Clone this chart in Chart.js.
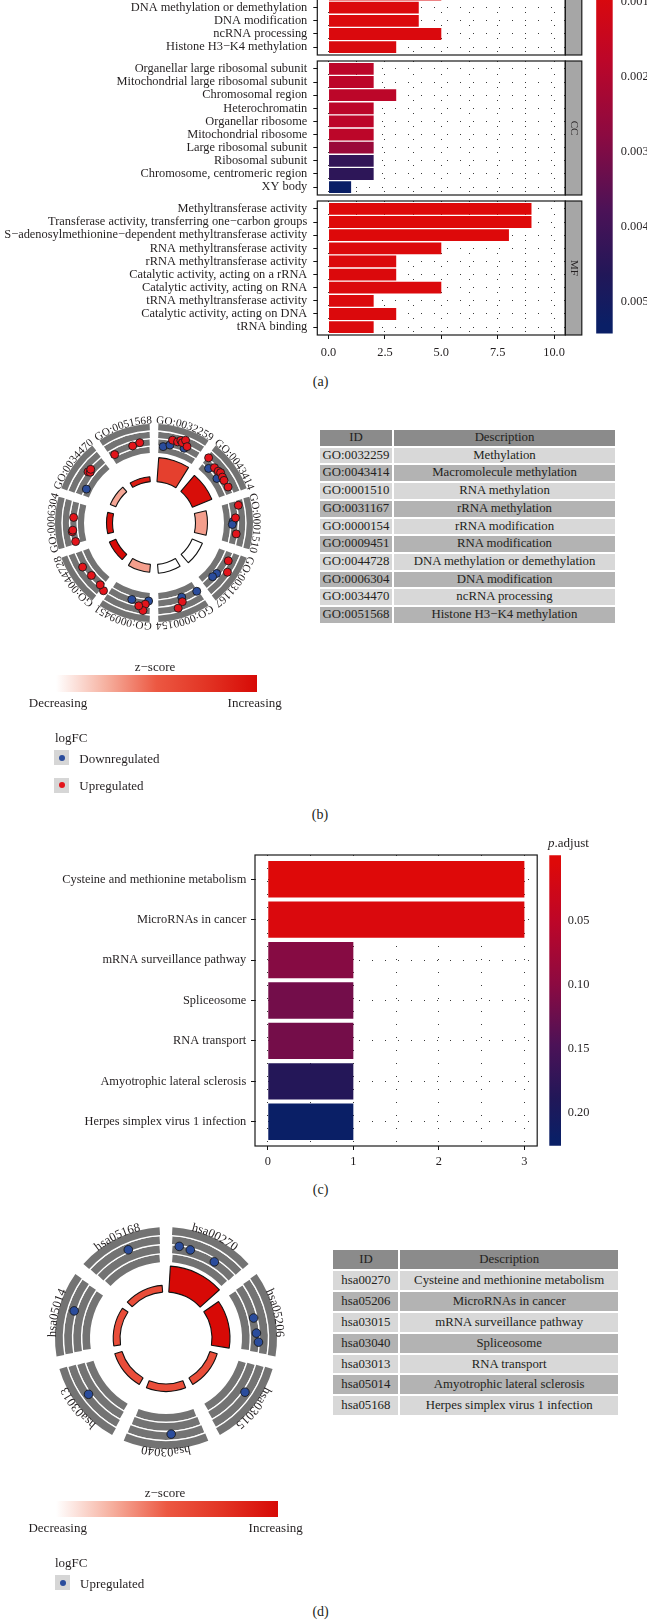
<!DOCTYPE html>
<html>
<head>
<meta charset="utf-8">
<title>GO / KEGG enrichment</title>
<script src="https://cdn.jsdelivr.net/npm/chart.js@4.4.1/dist/chart.umd.min.js"></script>
<style>
  html, body { margin: 0; padding: 0; background: #fff; }
  body { position: relative; width: 647px; height: 1620px; overflow: hidden; font-family: 'Liberation Serif', serif; color: #231f20; }
  canvas { position: absolute; }
  .t { position: absolute; white-space: nowrap; line-height: 1; }
  table.tab { position: absolute; border-collapse: separate; border-spacing: 2px; table-layout: fixed; font-size: 12.8px; color: #231f20; }
  table.tab td { padding: 0; text-align: center; white-space: nowrap; overflow: hidden; }
  .grad { position: absolute; }
  .key { position: absolute; width: 15px; height: 15px; background: #d6d6d6; }
  .key i { position: absolute; left: 4.5px; top: 4.5px; width: 6px; height: 6px; border-radius: 50%; }
</style>
</head>
<body>
<script>
// ---- (a) GO barplot, one facet per ontology ----
const bpTerms = ["Methylation", "Macromolecule methylation", "RNA methylation", "rRNA methylation",
  "rRNA modification", "RNA modification", "DNA methylation or demethylation", "DNA modification",
  "ncRNA processing", "Histone H3−K4 methylation"];
const bpCount = [9, 9, 5, 3, 3, 5, 4, 4, 5, 3];
const bpPadj = [0.0008, 0.0008, 0.00085, 0.00088, 0.0009, 0.0009, 0.0009, 0.0009, 0.00092, 0.00095];

const ccTerms = ["Organellar large ribosomal subunit", "Mitochondrial large ribosomal subunit",
  "Chromosomal region", "Heterochromatin", "Organellar ribosome", "Mitochondrial ribosome",
  "Large ribosomal subunit", "Ribosomal subunit", "Chromosome, centromeric region", "XY body"];
const ccCount = [2, 2, 3, 2, 2, 2, 2, 2, 2, 1];
const ccPadj = [0.00179, 0.00179, 0.00178, 0.0018, 0.0018, 0.0018, 0.0025, 0.0043, 0.0044, 0.0053];

const mfTerms = ["Methyltransferase activity", "Transferase activity, transferring one−carbon groups",
  "S−adenosylmethionine−dependent methyltransferase activity", "RNA methyltransferase activity",
  "rRNA methyltransferase activity", "Catalytic activity, acting on a rRNA",
  "Catalytic activity, acting on RNA", "tRNA methyltransferase activity",
  "Catalytic activity, acting on DNA", "tRNA binding"];
const mfCount = [9, 9, 8, 5, 3, 3, 5, 2, 3, 2];
const mfPadj = [0.0008, 0.0008, 0.00082, 0.00085, 0.0009, 0.0009, 0.00088, 0.0009, 0.0009, 0.0009];

const countTicks = [0, 2.5, 5, 7.5, 10];
const goPadjTicks = [0.001, 0.002, 0.003, 0.004, 0.005];

// ---- (b) GOCircle of the BP terms ----
const goIds = ["GO:0032259", "GO:0043414", "GO:0001510", "GO:0031167", "GO:0000154",
  "GO:0009451", "GO:0044728", "GO:0006304", "GO:0034470", "GO:0051568"];
const goDesc = ["Methylation", "Macromolecule methylation", "RNA methylation", "rRNA methylation",
  "rRNA modification", "RNA modification", "DNA methylation or demethylation", "DNA modification",
  "ncRNA processing", "Histone H3−K4 methylation"];
const goCircleBar = [6, 5.25, 3, 2.75, 2.25, 2, 1.75, 1.5, 1.5, 1.25];
const goZscore = [1.2, 1.76, 0.54, 0, 0, 0.54, 1.8, 1.74, 0.5, 1.6];
// genes: [term index, position inside the term, logFC]
const goGenesUp = [
  [0, 0.35, 0.24], [0, 0.45, 0.21], [0, 0.50, 0.38], [0, 0.54, 0.26], [0, 0.58, 0.50], [0, 0.65, 0.12],
  [1, 0.11, 0.25], [1, 0.32, 0.03], [1, 0.42, 0.07], [1, 0.47, 0.14], [1, 0.56, 0.06], [1, 0.63, 0.03], [1, 0.78, 0.06],
  [2, 0.17, 0.33], [2, 0.40, 0.01], [2, 0.71, 0.10],
  [3, 0.25, 0.13], [3, 0.44, 0.49],
  [4, 0.45, 0.15], [4, 0.56, 0.50],
  [5, 0.17, 0.01], [5, 0.20, 0.48], [5, 0.29, 0.19],
  [6, 0.02, 0.21], [6, 0.14, 0.03], [6, 0.39, 0.01], [6, 0.62, 0.17],
  [7, 0.13, -0.07], [7, 0.33, 0.05], [7, 0.36, 0.0], [7, 0.61, -0.07],
  [8, 0.55, 0.14], [8, 0.57, 0.0], [8, 0.62, 0.10],
  [9, 0.17, -0.19], [9, 0.57, -0.11], [9, 0.72, 0.0]
];
const goGenesDown = [
  [0, 0.19, -0.33], [0, 0.32, -0.14], [0, 0.61, -0.07],
  [1, 0.25, -0.31], [1, 0.52, -0.32],
  [2, 0.47, -0.17], [2, 0.53, -0.23],
  [3, 0.58, -0.08], [3, 0.68, -0.15],
  [4, 0.11, -0.07], [4, 0.43, -0.17],
  [5, 0.11, -0.24], [5, 0.45, -0.14],
  [8, 0.24, -0.42]
];

// ---- (c) KEGG barplot ----
const keggIds = ["hsa00270", "hsa05206", "hsa03015", "hsa03040", "hsa03013", "hsa05014", "hsa05168"];
const keggTerms = ["Cysteine and methionine metabolism", "MicroRNAs in cancer", "mRNA surveillance pathway",
  "Spliceosome", "RNA transport", "Amyotrophic lateral sclerosis", "Herpes simplex virus 1 infection"];
const keggCount = [3, 3, 1, 1, 1, 1, 1];
const keggPadj = [0.0042, 0.0095, 0.104, 0.118, 0.117, 0.186, 0.2204];
const keggCountTicks = [0, 1, 2, 3];
const keggPadjTicks = [0.05, 0.10, 0.15, 0.20];

// ---- (d) GOCircle of the KEGG pathways ----
const keggCircleBar = [3.25, 2.25, 0.95, 0.95, 0.95, 0.85, 0.85];
const keggZscore = [1.73, 1.73, 1, 1, 1, 1, 1];
const keggGenes = [
  [0, 0.16, 0.15], [0, 0.30, 0.08], [0, 0.63, 0.01],
  [1, 0.50, -0.01], [1, 0.69, 0.03], [1, 0.80, 0.15],
  [2, 0.42, 0.34], [3, 0.44, 0.37], [4, 0.55, 0.34], [5, 0.57, 0.34], [6, 0.55, 0.35]
];

// colour ramps (p.adjust: low = red, high = navy; z-score: white -> red)
const pStops = [[0, '#DE0909'], [0.22, '#BC0629'], [0.44, '#8C0A41'], [0.66, '#4C1257'], [0.85, '#221758'], [1, '#0A1F66']];
const zStops = [[0, '#FFFFFF'], [0.25, '#F6B09F'], [0.5, '#EC5842'], [0.75, '#E23424'], [1, '#D70A06']];
const upCol = '#E3141B', downCol = '#2A4C9C';

function hex2rgb(h) { return [1, 3, 5].map(i => parseInt(h.substr(i, 2), 16)); }
function ramp(stops, t) {
  t = Math.max(0, Math.min(1, t));
  for (let i = 1; i < stops.length; i++) {
    if (t <= stops[i][0]) {
      const a = stops[i - 1], b = stops[i];
      const f = (t - a[0]) / (b[0] - a[0]);
      const ca = hex2rgb(a[1]), cb = hex2rgb(b[1]);
      return 'rgb(' + ca.map((c, j) => Math.round(c + (cb[j] - c) * f)).join(',') + ')';
    }
  }
  return stops[stops.length - 1][1];
}

Chart.defaults.animation = false;
Chart.defaults.responsive = false;
Chart.defaults.events = [];
Chart.defaults.plugins.legend.display = false;
Chart.defaults.plugins.tooltip.enabled = false;
Chart.defaults.font.family = "'Liberation Serif', serif";
Chart.defaults.font.size = 12.4;
Chart.defaults.color = '#231f20';

function makeCanvas(x, y, w, h) {
  const c = document.createElement('canvas');
  c.width = w; c.height = h;
  c.style.left = x + 'px'; c.style.top = y + 'px';
  document.body.appendChild(c);
  return c;
}
function txt(html, x, y, size, align) {
  const d = document.createElement('div');
  d.className = 't';
  d.innerHTML = html;
  d.style.left = x + 'px'; d.style.top = y + 'px';
  d.style.fontSize = size + 'px';
  d.style.transform = 'translate(' + (align === 'left' ? 0 : -50) + '%,-50%)';
  document.body.appendChild(d);
}

// panel border + facet strip
const framePlugin = {
  id: 'frame',
  afterDatasetsDraw(chart, args, o) {
    const { ctx, chartArea: a } = chart;
    const h = a.bottom - a.top;
    ctx.save();
    ctx.strokeStyle = '#1a1a1a';
    ctx.lineWidth = 1.2;
    if (o.strip) {
      ctx.fillStyle = '#a6a6a6';
      ctx.fillRect(a.right, a.top, o.stripW, h);
      ctx.strokeRect(a.right, a.top, o.stripW, h);
      ctx.save();
      ctx.translate(a.right + o.stripW / 2, a.top + h / 2);
      ctx.rotate(Math.PI / 2);
      ctx.fillStyle = '#231f20';
      ctx.font = "11px 'Liberation Serif'";
      ctx.textAlign = 'center'; ctx.textBaseline = 'middle';
      ctx.fillText(o.strip, 0, 0);
      ctx.restore();
    }
    ctx.strokeRect(a.left, a.top, a.right - a.left, h);
    ctx.restore();
  }
};

// horizontal barplot with ggplot-like spacing (0.6 of a row at each end)
function hbar(o) {
  const n = o.cats.length;
  const areaH = o.rowH * (n + 0.2);
  const padT = 14, padB = o.showX ? 4 : 14, xH = o.showX ? o.xAxisH : 0;
  const cv = makeCanvas(0, o.top - padT, o.canvasW, padT + areaH + xH + padB);
  const dots = { display: false, dash: [1, 12] };
  return new Chart(cv, {
    type: 'bar',
    data: {
      datasets: [{
        data: o.vals.map((v, i) => ({ x: v, y: i + 1 })),
        backgroundColor: o.colors,
        borderWidth: 0,
        barPercentage: 0.9,
        categoryPercentage: 1
      }]
    },
    options: {
      indexAxis: 'y',
      layout: { padding: { top: padT, bottom: padB, left: 0, right: o.canvasW - o.areaR } },
      scales: {
        y: {
          type: 'linear', reverse: true, min: 0.4, max: n + 0.6, offset: false,
          afterBuildTicks: s => { s.ticks = o.cats.map((c, i) => ({ value: i + 1 })); },
          afterFit: s => { s.width = o.areaL; },
          ticks: { autoSkip: false, padding: o.yPad, callback: v => o.cats[v - 1] },
          grid: { offset: false, color: '#222', lineWidth: 0.9, tickLength: 4, tickColor: '#111', tickWidth: 1 },
          border: dots
        },
        x: {
          type: 'linear', min: o.xMin, max: o.xMax, offset: false,
          afterBuildTicks: s => { s.ticks = o.xGrid.map(v => ({ value: v })); },
          afterFit: s => { s.height = xH; },
          ticks: {
            display: o.showX, autoSkip: false, maxRotation: 0, padding: o.xPad,
            callback: v => (o.xMajor.indexOf(v) >= 0 ? o.xFmt(v) : '')
          },
          grid: {
            offset: false, color: '#222', lineWidth: 0.9, drawTicks: o.showX, tickLength: 4, tickWidth: 1,
            tickColor: c => (c.tick && o.xMajor.indexOf(c.tick.value) >= 0) ? '#111' : 'rgba(0,0,0,0)'
          },
          border: dots
        }
      },
      plugins: { frame: { strip: o.strip, stripW: 16.5 } }
    },
    plugins: [framePlugin]
  });
}

// p.adjust colour bar (ggplot keeps half a bin beyond the data range)
function colorbar(o) {
  const padT = 14, padB = 14;
  const ext = (o.pMax - o.pMin) / 38;
  const cv = makeCanvas(o.left, o.areaTop - padT, o.canvasW, padT + (o.areaBottom - o.areaTop) + padB);
  return new Chart(cv, {
    type: 'bar',
    data: {
      labels: [''],
      datasets: [{
        data: [[o.pMin - ext, o.pMax + ext]],
        barPercentage: 1, categoryPercentage: 1, borderWidth: 0,
        backgroundColor: c => {
          const ch = c.chart;
          if (!ch.chartArea) return pStops[0][1];
          const y = ch.scales.y;
          const g = ch.ctx.createLinearGradient(0, y.getPixelForValue(o.pMin), 0, y.getPixelForValue(o.pMax));
          pStops.forEach(s => g.addColorStop(s[0], s[1]));
          return g;
        }
      }]
    },
    options: {
      layout: { padding: { left: o.padL, top: padT, bottom: padB, right: 0 } },
      scales: {
        x: { display: false },
        y: {
          position: 'right', reverse: true, min: o.pMin - ext, max: o.pMax + ext, z: 1,
          afterBuildTicks: s => { s.ticks = o.ticks.map(v => ({ value: v })); },
          afterFit: s => { s.width = o.canvasW - o.padL - o.barW; },
          ticks: { padding: o.labelPad, callback: v => v.toFixed(o.dec) },
          grid: { drawTicks: false, offset: false, color: '#ffffff', lineWidth: 1 },
          border: { display: false, dash: [o.barW * 0.2, o.barW * 0.6] }
        }
      }
    }
  });
}

// inner bars of the circle start at a base ring, not at the centre
const annulusPlugin = {
  id: 'annulus',
  afterDatasetsUpdate(chart) {
    const base = chart.scales.r.getDistanceFromCenterForValue(0);
    chart.getDatasetMeta(0).data.forEach(a => { a.innerRadius = base; });
  }
};

// term ids written along the outside of the circle
const arcLabelPlugin = {
  id: 'arcLabels',
  afterDatasetsDraw(chart, args, o) {
    const { ctx } = chart;
    const sx = chart.scales.x, sy = chart.scales.y;
    const cx = sx.getPixelForValue(0), cy = sy.getPixelForValue(0);
    const R = sx.getPixelForValue(o.r) - cx;
    const segA = 2 * Math.PI / o.ids.length;
    ctx.save();
    ctx.font = o.size + "px 'Liberation Serif'";
    ctx.fillStyle = '#231f20';
    ctx.textAlign = 'center'; ctx.textBaseline = 'alphabetic';
    o.ids.forEach((id, i) => {
      const w = ctx.measureText(id).width;
      let a = (i + 0.5) * segA - w / R / 2;
      for (const ch of id) {
        const cw = ctx.measureText(ch).width;
        const ac = a + cw / 2 / R;
        ctx.save();
        ctx.translate(cx + R * Math.sin(ac), cy - R * Math.cos(ac));
        ctx.rotate(ac);
        ctx.fillText(ch, 0, 0);
        ctx.restore();
        a += cw / R;
      }
    });
    ctx.restore();
  }
};

function goCircle(o) {
  const S = o.size, L = o.cx - S / 2, T = o.cy - S / 2;
  const n = o.ids.length;
  // grey logFC track: 4 bands split by thin white rings
  const thick = o.r2 - o.r1, white = 1.3, grey = (thick - 3 * white) / 4;
  const weights = [grey, white, grey, white, grey, white, grey];
  const maxR = o.r2 - o.trackGap;
  new Chart(makeCanvas(L, T, S, S), {
    type: 'doughnut',
    data: {
      labels: o.ids,
      datasets: weights.map((w, i) => ({
        data: o.ids.map(() => 1), weight: w,
        backgroundColor: i % 2 ? '#ffffff' : '#737373',
        borderWidth: 0, hoverBorderWidth: 0, hoverOffset: 0, spacing: 2 * o.trackGap
      }))
    },
    options: { cutout: ((o.r1 - o.trackGap) / maxR * 100) + '%', layout: { padding: S / 2 - o.r2 } }
  });
  // inner significance bars coloured by z-score
  const base = o.r0 - o.barGap;
  const rMin = -base / o.k;
  const zMax = Math.max(...o.z);
  new Chart(makeCanvas(L, T, S, S), {
    type: 'polarArea',
    data: {
      labels: o.ids,
      datasets: [{
        data: o.bars,
        backgroundColor: o.z.map(z => ramp(zStops, z / zMax)),
        borderColor: '#111', borderWidth: 1.1, hoverBorderWidth: 1.1, hoverOffset: 0,
        spacing: 2 * o.barGap
      }]
    },
    options: { layout: { padding: 0 }, scales: { r: { display: false, min: rMin, max: rMin + (S / 2) / o.k } } },
    plugins: [annulusPlugin]
  });
  // genes on the track
  const segA = 2 * Math.PI / n;
  const toXY = g => {
    const th = (g[0] + g[1]) * segA;
    const r = o.r1 + (g[2] - o.lfcMin) / (o.lfcMax - o.lfcMin) * (o.r2 - o.r1);
    return { x: r * Math.sin(th), y: r * Math.cos(th) };
  };
  new Chart(makeCanvas(L, T, S, S), {
    type: 'scatter',
    data: {
      datasets: o.genes.map(g => ({
        data: g.pts.map(toXY), backgroundColor: g.color, borderColor: '#1a1a1a',
        borderWidth: 0.9, pointRadius: o.ptR, clip: false
      }))
    },
    options: {
      layout: { padding: 0 },
      scales: {
        x: { display: false, min: -S / 2, max: S / 2 },
        y: { display: false, min: -S / 2, max: S / 2 }
      },
      plugins: { arcLabels: { ids: o.ids, r: o.labelR, size: o.labelSize } }
    },
    plugins: [arcLabelPlugin]
  });
}

function idTable(x, y, w1, w2, rowH, ids, desc) {
  const t = document.createElement('table');
  t.className = 'tab';
  t.style.left = (x - 2) + 'px'; t.style.top = (y - 2) + 'px';
  t.style.width = (w1 + w2 + 6) + 'px';
  let h = '<colgroup><col style="width:' + w1 + 'px"><col style="width:' + w2 + 'px"></colgroup>';
  const cell = (s, bg) => '<td style="background:' + bg + ';height:' + (rowH - 2) + 'px;line-height:' + (rowH - 2) + 'px">' + s + '</td>';
  h += '<tr>' + cell('ID', '#8b8b8b') + cell('Description', '#8b8b8b') + '</tr>';
  ids.forEach((id, i) => {
    const bg = i % 2 ? '#b3b3b3' : '#d8d8d8';
    h += '<tr>' + cell(id, bg) + cell(desc[i], bg) + '</tr>';
  });
  t.innerHTML = h;
  document.body.appendChild(t);
}

function zLegend(x, y, w, h, cx) {
  const g = document.createElement('div');
  g.className = 'grad';
  g.style.left = x + 'px'; g.style.top = y + 'px';
  g.style.width = w + 'px'; g.style.height = h + 'px';
  g.style.background = 'linear-gradient(to right,' + zStops.map(s => s[1] + ' ' + (s[0] * 100) + '%').join(',') + ')';
  document.body.appendChild(g);
  txt('z−score', cx, y - 9, 13);
  txt('Decreasing', x + 2, y + h + 10.5, 13);
  txt('Increasing', x + w - 2, y + h + 10.5, 13);
}
function key(x, y, color, label) {
  const k = document.createElement('div');
  k.className = 'key';
  k.style.left = x + 'px'; k.style.top = y + 'px';
  k.innerHTML = '<i style="background:' + color + '"></i>';
  document.body.appendChild(k);
  txt(label, x + 25, y + 7.5, 13, 'left');
}

// ================= (a) =================
const goAllP = bpPadj.concat(ccPadj, mfPadj);
const goPMin = Math.min(...goAllP), goPMax = Math.max(...goAllP);
const goCol = p => ramp(pStops, (p - goPMin) / (goPMax - goPMin));
const aBase = {
  areaL: 317.3, areaR: 565.3, canvasW: 600, rowH: 13.2, yPad: 6,
  xMin: -0.5, xMax: 10.5, xMajor: countTicks, xFmt: v => v.toFixed(1),
  xGrid: countTicks.flatMap((v, i) => i ? [v - 1.25, v] : [v]), xAxisH: 30, xPad: 6
};
hbar(Object.assign({}, aBase, { cats: bpTerms, vals: bpCount, colors: bpPadj.map(goCol), top: 55.7 - 13.2 * 10.2, strip: 'BP', showX: false }));
hbar(Object.assign({}, aBase, { cats: ccTerms, vals: ccCount, colors: ccPadj.map(goCol), top: 60.9, strip: 'CC', showX: false }));
hbar(Object.assign({}, aBase, { cats: mfTerms, vals: mfCount, colors: mfPadj.map(goCol), top: 201.1, strip: 'MF', showX: true }));
colorbar({ left: 590, canvasW: 57, padL: 6.2, barW: 16.5, areaTop: -24.2, areaBottom: 335.7,
  pMin: goPMin, pMax: goPMax, ticks: goPadjTicks, dec: 3, labelPad: 8 });
txt('(a)', 320.6, 382, 14);

// ================= (b) =================
goCircle({
  cx: 154, cy: 522.5, size: 280, ids: goIds, bars: goCircleBar, z: goZscore,
  r1: 70, r2: 99, trackGap: 12.7, r0: 41.5, k: 4, barGap: 11, labelR: 103, labelSize: 11.2, ptR: 4,
  lfcMin: -1, lfcMax: 1,
  genes: [{ pts: goGenesUp, color: upCol }, { pts: goGenesDown, color: downCol }]
});
idTable(319.8, 430, 72.4, 220.6, 17.7, goIds, goDesc);
zLegend(56, 675, 200.7, 16.7, 155);
txt('logFC', 55, 737, 13, 'left');
key(54.3, 750, downCol, 'Downregulated');
key(54.3, 777.5, upCol, 'Upregulated');
txt('(b)', 320, 815, 14);

// ================= (c) =================
const kPMin = Math.min(...keggPadj), kPMax = Math.max(...keggPadj);
hbar({
  cats: keggTerms, vals: keggCount,
  colors: keggPadj.map(p => ramp(pStops, (p - kPMin) / (kPMax - kPMin))),
  areaL: 255, areaR: 537.2, canvasW: 547, rowH: 291 / 7.2, yPad: 4.7, top: 855,
  xMin: -0.15, xMax: 3.15, xMajor: keggCountTicks, xFmt: v => String(v),
  xGrid: [0, 0.5, 1, 1.5, 2, 2.5, 3], xAxisH: 25, xPad: 4, showX: true
});
colorbar({ left: 543, canvasW: 104, padL: 6.3, barW: 11.7, areaTop: 855, areaBottom: 1146.7,
  pMin: kPMin, pMax: kPMax, ticks: keggPadjTicks, dec: 2, labelPad: 6.7 });
txt('<i>p</i>.adjust', 568.5, 842, 13);
txt('(c)', 320.6, 1190, 14);

// ================= (d) =================
goCircle({
  cx: 166, cy: 1337.5, size: 280, ids: keggIds, bars: keggCircleBar, z: keggZscore,
  r1: 76, r2: 111, trackGap: 13, r0: 46, k: 8, barGap: 7.5, labelR: 114.5, labelSize: 12.5, ptR: 4.3,
  lfcMin: -1, lfcMax: 1,
  genes: [{ pts: keggGenes, color: downCol }]
});
idTable(333.4, 1250, 65, 217.6, 20.9, keggIds, keggTerms);
zLegend(55.7, 1500.7, 222, 16, 165);
txt('logFC', 55, 1562, 13, 'left');
key(55, 1575, downCol, 'Upregulated');
txt('(d)', 320.6, 1611.7, 14);
</script>
</body>
</html>
